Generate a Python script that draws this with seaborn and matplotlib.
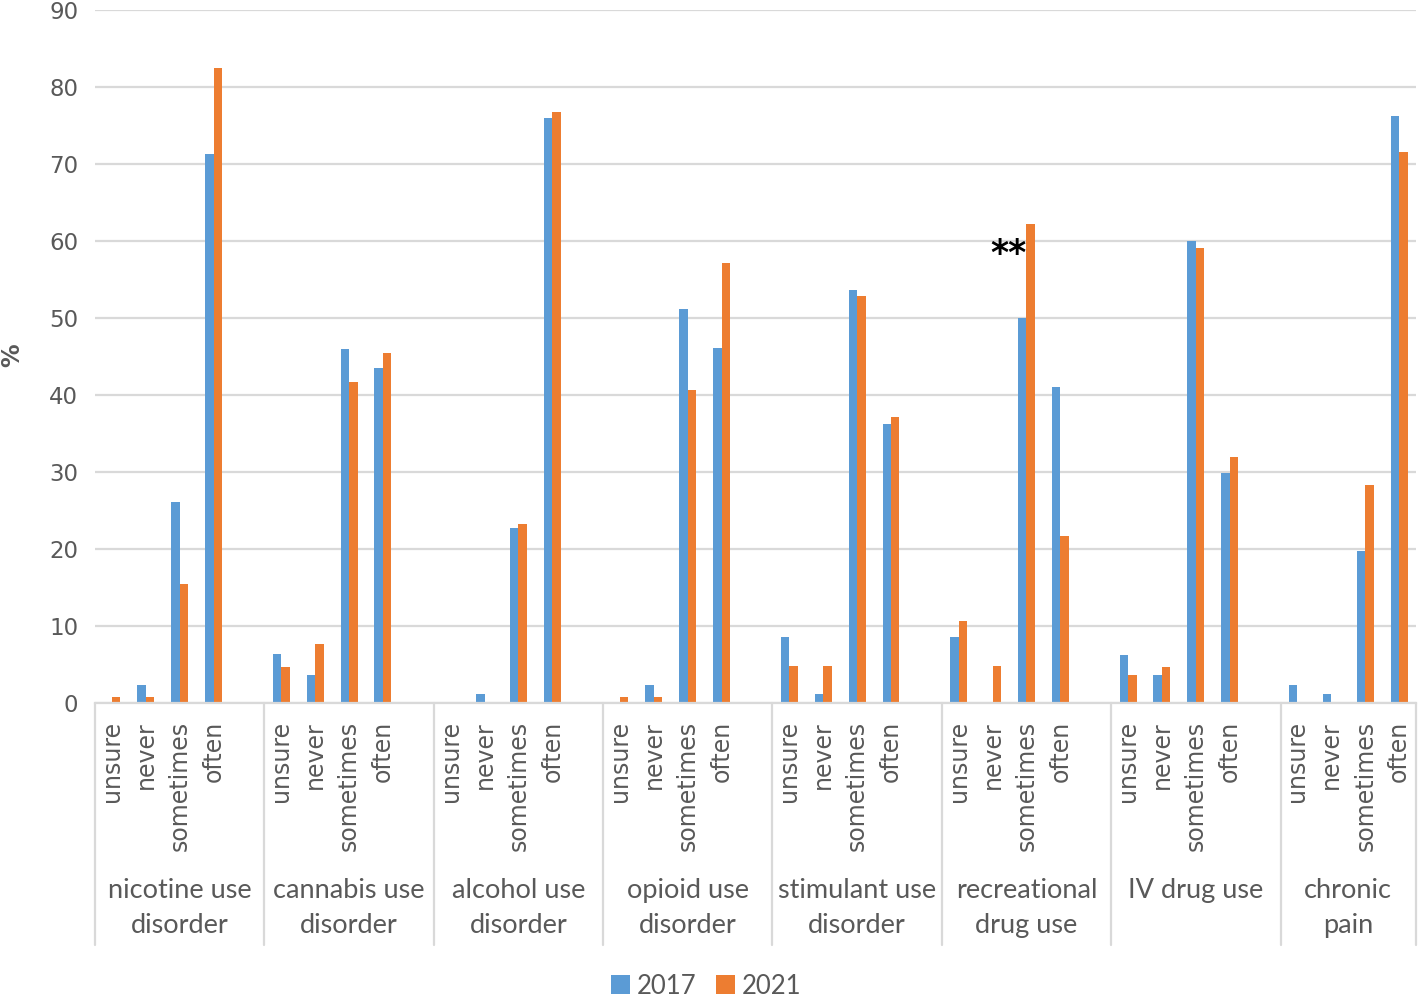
import matplotlib
matplotlib.use("Agg")
import numpy as np
import pandas as pd
import seaborn as sns
import matplotlib.pyplot as plt
from matplotlib.transforms import blended_transform_factory
from matplotlib.lines import Line2D

# ---- data ----
group_line1 = ["nicotine use", "cannabis use", "alcohol use", "opioid use",
               "stimulant use", "recreational", "IV drug use", "chronic"]
group_line2 = ["disorder", "disorder", "disorder", "disorder",
               "disorder", "drug use", "", "pain"]
responses = ["unsure", "never", "sometimes", "often"]
years = ["2017", "2021"]

v2017 = [0.0, 2.4, 26.1, 71.3,
         6.3, 3.7, 46.0, 43.5,
         0.0, 1.2, 22.7, 76.0,
         0.0, 2.4, 51.2, 46.1,
         8.6, 1.2, 53.7, 36.2,
         8.6, 0.0, 50.0, 41.1,
         6.2, 3.7, 60.0, 29.9,
         2.4, 1.2, 19.8, 76.2]
v2021 = [0.8, 0.8, 15.4, 82.5,
         4.7, 7.7, 41.7, 45.5,
         0.0, 0.0, 23.2, 76.7,
         0.8, 0.8, 40.6, 57.1,
         4.8, 4.8, 52.9, 37.1,
         10.7, 4.8, 62.2, 21.7,
         3.7, 4.7, 59.1, 31.9,
         0.0, 0.0, 28.3, 71.5]

colors = {"2017": "#5B9BD5", "2021": "#ED7D31"}
grey_txt = "#595959"
grey_line = "#D9D9D9"

# build long table; each group takes 5 slots (last slot blank)
rows = []
slots, slot_labels = [], []
for g in range(len(group_line1)):
    for s, r in enumerate(responses):
        slot = g * 5 + s
        slots.append(slot)
        slot_labels.append(r)
        idx = g * 4 + s
        rows.append({"slot": slot, "year": "2017", "value": v2017[idx]})
        rows.append({"slot": slot, "year": "2021", "value": v2021[idx]})
df = pd.DataFrame(rows)
nslots = len(group_line1) * 5 - 1

# ---- figure ----
sns.set_theme(style="white")
plt.rcParams["font.family"] = ["DejaVu Sans"]
W, H = 1419, 996
fig = plt.figure(figsize=(W / 100, H / 100), dpi=100)
ax_left, ax_right, ax_bot, ax_top = 95, 1416, 703, 10
ax = fig.add_axes([ax_left / W, 1 - ax_bot / H, (ax_right - ax_left) / W, (ax_bot - ax_top) / H])

sns.barplot(data=df, x="slot", y="value", hue="year", hue_order=years,
            palette=colors, saturation=1, native_scale=True, width=0.5,
            errorbar=None, linewidth=0, ax=ax)

ax.set_xlim(-0.5, nslots - 0.5)
ax.set_ylim(0, 90)
ax.set_yticks(np.arange(0, 91, 10))
ax.yaxis.grid(True, color=grey_line, linewidth=1.6)
ax.set_axisbelow(True)
for sp in ["left", "right", "top"]:
    ax.spines[sp].set_visible(False)
ax.spines["bottom"].set_color(grey_line)
ax.spines["bottom"].set_linewidth(1.6)

ax.set_xticks(slots)
ax.set_xticklabels(slot_labels, rotation=90, fontsize=17, color=grey_txt)
ax.tick_params(axis="x", length=0, pad=13)
ax.tick_params(axis="y", length=0, pad=12, labelsize=16.5, labelcolor=grey_txt)
ax.set_xlabel("")
ax.set_ylabel("")

fig.text(12 / W, 1 - 355 / H, "%", rotation=90, ha="center", va="center",
         fontsize=17, fontweight="bold", color=grey_txt)

# group labels and dividers
tr = blended_transform_factory(ax.transData, fig.transFigure)
ngroups = len(group_line1)
for g in range(ngroups):
    left = g * 5 - 0.5
    right = g * 5 + 4.5 if g < ngroups - 1 else nslots - 0.5
    cx = (left + right) / 2
    fig.text(cx, 1 - 890 / H, group_line1[g], transform=tr, ha="center", va="center",
             fontsize=19.5, color=grey_txt, family=["Lato", "DejaVu Sans"])
    if group_line2[g]:
        fig.text(cx, 1 - 925 / H, group_line2[g], transform=tr, ha="center", va="center",
                 fontsize=19.5, color=grey_txt, family=["Lato", "DejaVu Sans"])
divs = [g * 5 - 0.5 for g in range(ngroups)] + [nslots - 0.5]
for x in divs:
    fig.add_artist(Line2D([x, x], [1 - ax_bot / H, 1 - 945 / H], transform=tr,
                          color=grey_line, linewidth=1.6, clip_on=False))

# significance mark
ax.text(5 * 5 + 2, 57.0, "**", ha="right", va="baseline", fontsize=25,
        fontweight="bold", color="black")

# legend
handles, labels = ax.get_legend_handles_labels()
if ax.legend_ is not None:
    ax.legend_.remove()
fig.legend(handles, labels, loc="center", bbox_to_anchor=(706 / W, 1 - 986 / H),
           ncol=2, frameon=False, handlelength=0.75, handleheight=0.75,
           handletextpad=0.25, columnspacing=0.75,
           prop={"family": "Lato", "size": 18.5}, labelcolor=grey_txt)

fig.savefig("out.png", dpi=100)
